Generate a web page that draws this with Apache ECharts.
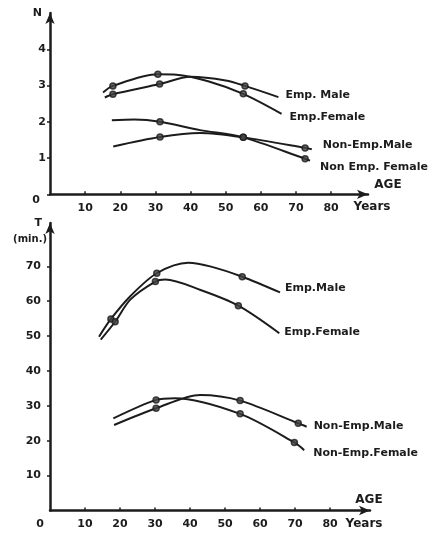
<!DOCTYPE html>
<html>
<head>
<meta charset="utf-8">
<script src="https://cdn.jsdelivr.net/npm/echarts@6/dist/echarts.min.js"></script>
<style>html,body{margin:0;padding:0;background:#fff}#c{width:433px;height:534px}</style>
</head>
<body>
<div id="c"></div>
<script>
// ---- tick labels ----
const ageTicks = [10, 20, 30, 40, 50, 60, 70, 80];
const nTicks = [0, 1, 2, 3, 4];
const tTicks = [10, 20, 30, 40, 50, 60, 70];

// ---- top panel: N ----
const empMaleNAge = [15.6, 17.9, 31.2, 40, 50, 55.5, 65];
const empMaleN = [2.67, 2.76, 3.04, 3.24, 3.14, 2.99, 2.68];
const empMaleNMarks = [1, 2, 5];
const empFemaleNAge = [15.1, 17.9, 30.7, 36, 45, 55, 65.9];
const empFemaleN = [2.81, 2.99, 3.31, 3.3, 3.12, 2.77, 2.22];
const empFemaleNMarks = [1, 2, 5];
const nonEmpMaleNAge = [18, 31.3, 42.7, 55, 72.6, 74.5];
const nonEmpMaleN = [1.32, 1.58, 1.69, 1.57, 1.28, 1.24];
const nonEmpMaleNMarks = [1, 3, 4];
const nonEmpFemaleNAge = [17.6, 24, 31.3, 42.7, 55, 72.6, 74];
const nonEmpFemaleN = [2.04, 2.06, 2.0, 1.77, 1.57, 0.98, 0.93];
const nonEmpFemaleNMarks = [2, 4, 5];

// ---- bottom panel: T (min.) ----
const empMaleTAge = [14, 17.4, 23, 30.5, 39.5, 46, 54.9, 65.7];
const empMaleT = [49.8, 54.9, 61.5, 68.0, 71.0, 69.9, 67.0, 62.5];
const empMaleTMarks = [1, 3, 6];
const empFemaleTAge = [14.5, 18.6, 23, 30.1, 32.9, 43, 53.8, 65.5];
const empFemaleT = [49.0, 54.1, 60.5, 65.6, 66.2, 63.2, 58.7, 50.8];
const empFemaleTMarks = [1, 3, 6];
const nonEmpMaleTAge = [18.3, 30.3, 42.9, 54.3, 70.9, 73.3];
const nonEmpMaleT = [24.5, 29.3, 33.1, 31.5, 25.0, 24.0];
const nonEmpMaleTMarks = [1, 3, 4];
const nonEmpFemaleTAge = [18.1, 30.3, 35.7, 54.3, 69.8, 72.6];
const nonEmpFemaleT = [26.4, 31.7, 32.2, 27.7, 19.5, 17.3];
const nonEmpFemaleTMarks = [1, 3, 4];

const INK = '#1c1c1c';
const FONT = 'DejaVu Sans';

function zip(xs, ys) { return xs.map((x, i) => [x, ys[i]]); }
function pick(xs, ys, idx) { return idx.map(i => [xs[i], ys[i]]); }

function curve(name, xs, ys, grid, off) {
  return {
    type: 'line', name: name, xAxisIndex: grid, yAxisIndex: grid,
    data: zip(xs, ys), smooth: 0.3, symbol: 'none',
    lineStyle: { color: INK, width: 2 },
    endLabel: {
      show: true, formatter: name, distance: 0, offset: off,
      align: 'left', verticalAlign: 'middle',
      fontFamily: FONT, fontWeight: 'bold', fontSize: 11, color: INK
    },
    silent: true, z: 3
  };
}
function marks(xs, ys, idx, grid) {
  return {
    type: 'scatter', xAxisIndex: grid, yAxisIndex: grid,
    data: pick(xs, ys, idx), symbol: 'circle', symbolSize: 6,
    itemStyle: { color: '#444', borderColor: INK, borderWidth: 1.5 },
    silent: true, z: 4
  };
}

const axisLineCfg = {
  show: true, symbol: ['none', 'arrow'], symbolSize: [7, 11],
  lineStyle: { color: INK, width: 2.5 }
};
const labelCfg = { fontFamily: FONT, fontWeight: 'bold', fontSize: 11, color: INK };

const chart = echarts.init(document.getElementById('c'), null, { renderer: 'canvas' });
chart.setOption({
  animation: false,
  backgroundColor: '#fff',
  grid: [
    { left: 50, top: 13, width: 318, height: 181.3 },
    { left: 50, top: 223, width: 320, height: 287.5 }
  ],
  xAxis: [
    {
      gridIndex: 0, type: 'value', min: 0, max: 90.5,
      axisLine: axisLineCfg,
      axisTick: { show: true, inside: true, length: 3, customValues: ageTicks, lineStyle: { color: INK, width: 1.5 } },
      axisLabel: Object.assign({ customValues: ageTicks, margin: 8 }, labelCfg),
      splitLine: { show: false }
    },
    {
      gridIndex: 1, type: 'value', min: 0, max: 91.4,
      axisLine: axisLineCfg,
      axisTick: { show: true, inside: true, length: 3, customValues: ageTicks, lineStyle: { color: INK, width: 1.5 } },
      axisLabel: Object.assign({
        customValues: [0].concat(ageTicks), margin: 8,
        formatter: v => v === 0 ? '{z|0}' : String(v),
        rich: { z: { padding: [0, 20, 0, 0], fontFamily: FONT, fontWeight: 'bold', fontSize: 11, color: INK } }
      }, labelCfg),
      splitLine: { show: false }
    }
  ],
  yAxis: [
    {
      gridIndex: 0, type: 'value', min: 0, max: 5,
      axisLine: axisLineCfg,
      axisTick: { show: true, length: 3, customValues: nTicks, lineStyle: { color: INK, width: 1.5 } },
      axisLabel: Object.assign({
        customValues: nTicks, margin: 4,
        formatter: v => v === 0 ? '{z|0}' : String(v),
        rich: { z: { padding: [12, 6, 0, 0], fontFamily: FONT, fontWeight: 'bold', fontSize: 11, color: INK } }
      }, labelCfg),
      splitLine: { show: false },
      name: 'N', nameLocation: 'end', nameGap: 0,
      nameTextStyle: { align: 'right', verticalAlign: 'middle', padding: [0, 8, 0, 0], fontFamily: FONT, fontWeight: 'bold', fontSize: 11, color: INK }
    },
    {
      gridIndex: 1, type: 'value', min: 0, max: 82.4,
      axisLine: axisLineCfg,
      axisTick: { show: true, length: 3, customValues: tTicks, lineStyle: { color: INK, width: 1.5 } },
      axisLabel: Object.assign({ customValues: tTicks, margin: 9 }, labelCfg),
      splitLine: { show: false },
      name: '{t|T}\n{m|(min.)}', nameLocation: 'end', nameGap: -8,
      nameTextStyle: {
        align: 'right', verticalAlign: 'middle', lineHeight: 16,
        rich: {
          t: { padding: [0, 8, 0, 0], fontFamily: FONT, fontWeight: 'bold', fontSize: 11, color: INK, lineHeight: 16 },
          m: { padding: [0, 3, 0, 0], fontFamily: FONT, fontWeight: 'bold', fontSize: 10, color: INK, lineHeight: 16 }
        }
      }
    }
  ],
  graphic: [
    { type: 'text', x: 388, y: 185, style: { text: 'AGE', font: 'bold 12px "DejaVu Sans"', fill: INK, align: 'center', verticalAlign: 'middle' } },
    { type: 'text', x: 372, y: 207, style: { text: 'Years', font: 'bold 12px "DejaVu Sans"', fill: INK, align: 'center', verticalAlign: 'middle' } },
    { type: 'text', x: 369, y: 500, style: { text: 'AGE', font: 'bold 12px "DejaVu Sans"', fill: INK, align: 'center', verticalAlign: 'middle' } },
    { type: 'text', x: 364, y: 524, style: { text: 'Years', font: 'bold 12px "DejaVu Sans"', fill: INK, align: 'center', verticalAlign: 'middle' } }
  ],
  series: [
    curve('Emp. Male', empMaleNAge, empMaleN, 0, [7, -2]),
    curve('Emp.Female', empFemaleNAge, empFemaleN, 0, [8, 3]),
    curve('Non-Emp.Male', nonEmpMaleNAge, nonEmpMaleN, 0, [11, -4]),
    curve('Non Emp. Female', nonEmpFemaleNAge, nonEmpFemaleN, 0, [10, 7]),
    marks(empMaleNAge, empMaleN, empMaleNMarks, 0),
    marks(empFemaleNAge, empFemaleN, empFemaleNMarks, 0),
    marks(nonEmpMaleNAge, nonEmpMaleN, nonEmpMaleNMarks, 0),
    marks(nonEmpFemaleNAge, nonEmpFemaleN, nonEmpFemaleNMarks, 0),
    curve('Emp.Male', empMaleTAge, empMaleT, 1, [5, -4]),
    curve('Emp.Female', empFemaleTAge, empFemaleT, 1, [5, -1]),
    curve('Non-Emp.Male', nonEmpMaleTAge, nonEmpMaleT, 1, [7, -1]),
    curve('Non-Emp.Female', nonEmpFemaleTAge, nonEmpFemaleT, 1, [9, 3]),
    marks(empMaleTAge, empMaleT, empMaleTMarks, 1),
    marks(empFemaleTAge, empFemaleT, empFemaleTMarks, 1),
    marks(nonEmpMaleTAge, nonEmpMaleT, nonEmpMaleTMarks, 1),
    marks(nonEmpFemaleTAge, nonEmpFemaleT, nonEmpFemaleTMarks, 1)
  ]
});
</script>
</body>
</html>
